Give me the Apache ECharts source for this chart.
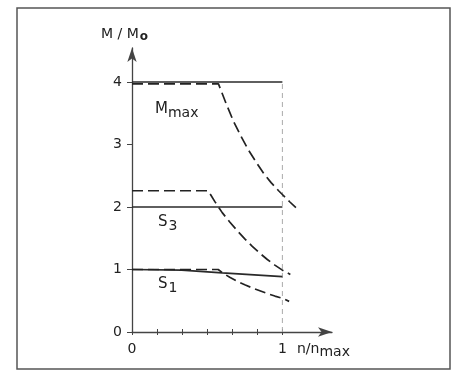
<!DOCTYPE html>
<html><head><meta charset="utf-8">
<script src="https://cdn.jsdelivr.net/npm/echarts@6/dist/echarts.min.js"></script>
<style>html,body{margin:0;padding:0;background:#fff}#c{width:452px;height:371px}</style>
</head><body><div id="c"></div>
<script>
// Data (x = n/n_max, y = M/M0)
const yTicks = [0, 1, 2, 3, 4];
const xTicks = [0, 1/6, 2/6, 3/6, 4/6, 5/6, 1];
const xLabels = [0, 1];

const mmaxSolidX = [0, 1];
const mmaxSolidY = [4.0, 4.0];
const mmaxDashX = [0, 0.575, 0.625, 0.675, 0.725, 0.775, 0.825, 0.875, 0.925, 0.975, 1.0, 1.05, 1.09];
const mmaxDashY = [3.97, 3.97, 3.66, 3.37, 3.13, 2.91, 2.72, 2.54, 2.39, 2.26, 2.2, 2.08, 1.99];

const s3SolidX = [0, 1];
const s3SolidY = [2.0, 2.0];
const s3DashX = [0, 0.507, 0.55, 0.6, 0.65, 0.7, 0.75, 0.8, 0.85, 0.9, 0.95, 1.0, 1.053];
const s3DashY = [2.26, 2.26, 2.09, 1.91, 1.76, 1.62, 1.49, 1.37, 1.26, 1.16, 1.07, 0.99, 0.92];

const s1SolidX = [0, 0.33, 0.6, 1.0];
const s1SolidY = [1.0, 0.99, 0.945, 0.885];
const s1DashX = [0, 0.573, 0.6, 0.65, 0.7, 0.75, 0.8, 0.85, 0.9, 0.95, 1.0, 1.045];
const s1DashY = [1.0, 1.0, 0.95, 0.875, 0.81, 0.755, 0.705, 0.66, 0.615, 0.575, 0.54, 0.49];

const refX = [1, 1];
const refY = [0, 4];

const zip = (xs, ys) => xs.map((x, i) => [x, ys[i]]);
const font = 'DejaVu Sans';
const ink = '#222';

const solid = (name, xs, ys) => ({
  name, type: 'line', data: zip(xs, ys), symbol: 'none', silent: true,
  lineStyle: { color: '#2a2a2a', width: 1.7 }
});
const dashed = (name, xs, ys) => ({
  name, type: 'line', data: zip(xs, ys), symbol: 'none', silent: true,
  lineStyle: { color: ink, width: 1.7, type: [11, 5] }
});

const chart = echarts.init(document.getElementById('c'), null, { renderer: 'canvas' });
const X_MAX = 1.33, Y_MAX = 4.544;
chart.setOption({
  animation: false,
  backgroundColor: '#fff',
  grid: { left: 132, right: 120, top: 48, bottom: 39 },
  xAxis: [{
    type: 'value', min: 0, max: X_MAX, position: 'bottom',
    splitLine: { show: false },
    axisLine: { lineStyle: { color: '#444', width: 1.3 }, symbol: ['none', 'arrow'], symbolSize: [7, 14] },
    axisTick: { customValues: xTicks, length: 3, inside: false, lineStyle: { color: '#444' } },
    axisLabel: { customValues: xLabels, color: ink, fontFamily: font, fontSize: 14, margin: 10,
      formatter: v => String(Math.round(v)) }
  }, {
    type: 'value', min: 0, max: X_MAX, position: 'bottom',
    splitLine: { show: false }, axisLine: { show: false },
    axisTick: { customValues: xTicks, length: 3, inside: true, lineStyle: { color: '#444' } },
    axisLabel: { show: false }
  }],
  yAxis: [{
    type: 'value', min: 0, max: Y_MAX,
    splitLine: { show: false },
    axisLine: { lineStyle: { color: '#444', width: 1.3 }, symbol: ['none', 'arrow'], symbolSize: [7, 14] },
    axisTick: { customValues: yTicks, length: 5, lineStyle: { color: '#444' } },
    axisLabel: { customValues: yTicks, color: ink, fontFamily: font, fontSize: 14, margin: 10 }
  }],
  graphic: [
    { type: 'rect', shape: { x: 17, y: 8, width: 433, height: 361 },
      style: { fill: 'none', stroke: '#555', lineWidth: 1.5 }, silent: true },
    { type: 'text', left: 101, top: 27, style: { rich: {
        a: { fontFamily: font, fontSize: 14, fill: ink },
        b: { fontFamily: font, fontSize: 12, fontWeight: 'bold', fill: ink, padding: [5, 0, 0, 1] } },
        text: '{a|M / M}{b|o}' } },
    { type: 'text', left: 155, top: 102, style: { rich: {
        a: { fontFamily: font, fontSize: 15, fill: ink },
        b: { fontFamily: font, fontSize: 14, fill: ink, padding: [7, 0, 0, 0] } },
        text: '{a|M}{b|max}' } },
    { type: 'text', left: 158, top: 215, style: { rich: {
        a: { fontFamily: font, fontSize: 15, fill: ink },
        b: { fontFamily: font, fontSize: 14, fill: ink, padding: [8, 0, 0, 1] } },
        text: '{a|S}{b|3}' } },
    { type: 'text', left: 158, top: 277, style: { rich: {
        a: { fontFamily: font, fontSize: 15, fill: ink },
        b: { fontFamily: font, fontSize: 14, fill: ink, padding: [8, 0, 0, 1] } },
        text: '{a|S}{b|1}' } },
    { type: 'text', left: 297, top: 342, style: { rich: {
        a: { fontFamily: font, fontSize: 14, fill: ink },
        b: { fontFamily: font, fontSize: 14, fill: ink, padding: [6, 0, 0, 0] } },
        text: '{a|n/n}{b|max}' } }
  ],
  series: [
    { name: 'ref', type: 'line', data: zip(refX, refY), symbol: 'none', silent: true,
      lineStyle: { color: '#aaa', width: 1, type: [5, 4] } },
    solid('Mmax', mmaxSolidX, mmaxSolidY),
    dashed('Mmax dashed', mmaxDashX, mmaxDashY),
    solid('S3', s3SolidX, s3SolidY),
    dashed('S3 dashed', s3DashX, s3DashY),
    solid('S1', s1SolidX, s1SolidY),
    dashed('S1 dashed', s1DashX, s1DashY)
  ]
});
</script></body></html>
